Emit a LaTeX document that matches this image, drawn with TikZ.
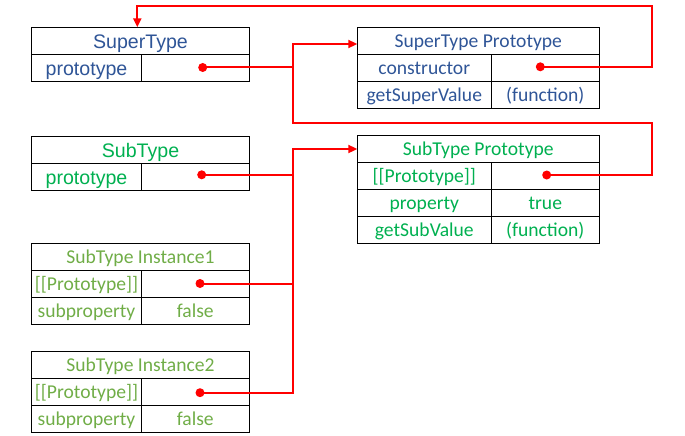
\documentclass[tikz,border=0pt]{standalone}
\usepackage{fontspec}
\setmainfont{Carlito}
\newfontfamily\arialf{Liberation Sans}
\usetikzlibrary{arrows.meta}
\definecolor{stblue}{HTML}{2F5597}
\definecolor{sbgreen}{HTML}{00B050}
\definecolor{instgreen}{HTML}{70AD47}
\definecolor{linkred}{HTML}{FF0000}
\begin{document}
\begin{tikzpicture}[x=1pt,y=-1pt,
  cell/.style={draw=black, line width=1pt, minimum height=27pt, inner sep=0pt, outer sep=0pt,
    anchor=north west, font=\fontsize{19.6}{22}\selectfont, text height=15pt, text depth=1.5pt},
  acell/.style={cell, font=\arialf\fontsize{19.6}{22}\selectfont, text height=17pt, text depth=1pt},
  lw/.style={minimum width=109.6pt},
  rw/.style={minimum width=108pt},
  fw/.style={minimum width=217.6pt},
  plw/.style={minimum width=134pt},
  pfw/.style={minimum width=242pt},
  dot/.style={circle, fill=linkred, inner sep=0pt, minimum size=9pt},
  link/.style={draw=linkred, line width=2pt},
  tip/.style={-{Triangle[length=9pt,width=8pt]}}
]
\useasboundingbox (0,0) rectangle (685,436);

% SuperType
\node[acell,fw,text=stblue] (STh) at (31.7,27.3) {SuperType};
\node[acell,lw,text=stblue] (STk) at (31.7,54.3) {prototype};
\node[acell,rw] (STv) at (141.3,54.3) {};

% SubType
\node[acell,fw,text=sbgreen] (SBh) at (31.7,136) {SubType};
\node[acell,lw,text=sbgreen] (SBk) at (31.7,163) {prototype};
\node[acell,rw] (SBv) at (141.3,163) {};

% SubType Instance1
\node[cell,fw,text=instgreen] (I1h) at (31.7,243.7) {SubType Instance1};
\node[cell,lw,text=instgreen] (I1k) at (31.7,270.7) {[[Prototype]]};
\node[cell,rw] (I1v) at (141.3,270.7) {};
\node[cell,lw,text=instgreen] (I1k2) at (31.7,297.7) {subproperty};
\node[cell,rw,text=instgreen] (I1v2) at (141.3,297.7) {false};

% SubType Instance2
\node[cell,fw,text=instgreen] (I2h) at (31.7,351.3) {SubType Instance2};
\node[cell,lw,text=instgreen] (I2k) at (31.7,378.3) {[[Prototype]]};
\node[cell,rw] (I2v) at (141.3,378.3) {};
\node[cell,lw,text=instgreen] (I2k2) at (31.7,405.3) {subproperty};
\node[cell,rw,text=instgreen] (I2v2) at (141.3,405.3) {false};

% SuperType Prototype
\node[cell,pfw,text=stblue] (PAh) at (357.3,27.5) {SuperType Prototype};
\node[cell,plw,text=stblue] (PAk1) at (357.3,54.5) {constructor};
\node[cell,rw] (PAv1) at (491.3,54.5) {};
\node[cell,plw,text=stblue] (PAk2) at (357.3,81.5) {getSuperValue};
\node[cell,rw,text=stblue] (PAv2) at (491.3,81.5) {(function)};

% SubType Prototype
\node[cell,pfw,text=sbgreen] (PBh) at (357.3,135.7) {SubType Prototype};
\node[cell,plw,text=sbgreen] (PBk1) at (357.3,162.7) {[[Prototype]]};
\node[cell,rw] (PBv1) at (491.3,162.7) {};
\node[cell,plw,text=sbgreen] (PBk2) at (357.3,189.7) {property};
\node[cell,rw,text=sbgreen] (PBv2) at (491.3,189.7) {true};
\node[cell,plw,text=sbgreen] (PBk3) at (357.3,216.7) {getSubValue};
\node[cell,rw,text=sbgreen] (PBv3) at (491.3,216.7) {(function)};

% dots
\node[dot] (dST) at (202.7,67.5) {};
\node[dot] (dSB) at (201.7,174.8) {};
\node[dot] (dI1) at (200,283.5) {};
\node[dot] (dI2) at (200,392.7) {};
\node[dot] (dPA) at (540.3,66.8) {};
\node[dot] (dPB) at (546.7,175) {};

% bend points and arrow targets
\coordinate (c1) at (652,6);
\coordinate (tST) at (137.3,27.3);
\coordinate (c2) at (652,122.7);
\coordinate (c3) at (293,44);
\coordinate (aPA) at (357.3,44);
\coordinate (c4) at (293,149);
\coordinate (aPB) at (357.3,149);

% connectors
\draw[link,tip] (dPA.center) -| (c1) -| (tST);
\draw[link,tip] (dPB.center) -| (c2) -| (c3) -- (aPA);
\draw[link] (dST.center) -- (dST.center -| c3);
\draw[link,tip] (dI2.center) -| (c4) -- (aPB);
\draw[link] (dSB.center) -- (dSB.center -| c4);
\draw[link] (dI1.center) -- (dI1.center -| c4);
\end{tikzpicture}
\end{document}
